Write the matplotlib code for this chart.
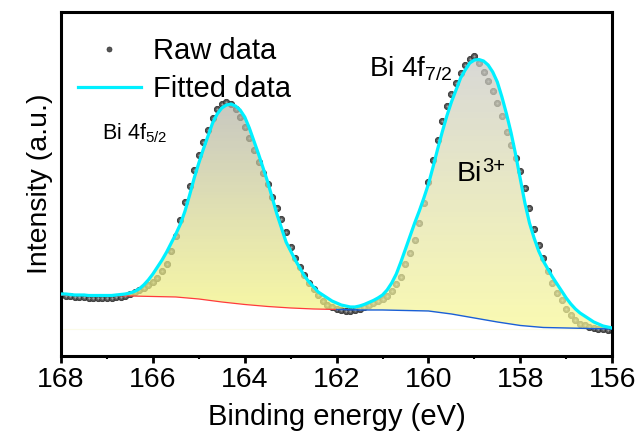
#XPS Bi 4f spectrum - raw data, fitted envelope and baseline
import numpy as np
import matplotlib
matplotlib.use('Agg')
import matplotlib.pyplot as plt
from matplotlib.patches import Polygon
from matplotlib.lines import Line2D
from matplotlib.ticker import MultipleLocator

plt.rcParams['font.family'] = ['Liberation Sans', 'DejaVu Sans']
plt.rcParams['mathtext.default'] = 'regular'

#Binding energy grid of the measurement (eV), 0.1 eV step from 168 down to 156
energy = np.round(np.linspace(168, 156, 121), 1)

#Raw data intensity (a.u.)
raw_data = [61, 60, 60, 59, 59, 58.5, 58, 58, 58, 58,
            58, 58, 58.5, 59, 60, 62, 64, 66, 68, 70.5,
            74, 78, 84.5, 91.5, 105, 120, 136, 154, 170, 186,
            201, 214, 226, 238, 247, 252, 254, 252, 247, 239,
            229, 218, 206, 194, 183, 172, 159, 148, 137, 124,
            109, 98, 89, 81, 73, 67, 61, 55, 51, 48.5,
            47, 46, 45, 45, 45.5, 46.5, 48.5, 51, 53, 54.5,
            56.5, 60, 65, 72, 79, 92, 103, 116, 133, 153,
            174, 196, 216, 235, 250, 262, 273, 283, 291, 297,
            300, 293, 284, 275, 265, 253, 240, 224, 211, 198,
            185, 168, 148, 127, 111, 98, 85, 73, 63, 56,
            47, 41, 36, 32, 30.5, 29, 28, 27, 26.5, 26,
            26]

#Fitted envelope (a.u.)
fitted_data = [62, 62, 61.5, 61, 61, 61, 60.5, 60.5, 60.5, 60.5,
               60.5, 60.5, 61, 61.5, 62, 63, 64.5, 67, 71, 76,
               82, 89, 96, 104, 113, 122, 132, 145, 161, 178,
               193, 207, 220, 233, 242, 248, 251, 252, 250, 246,
               239, 228, 215, 202, 188, 174, 158, 142, 128, 114,
               105, 96, 88, 80, 74, 69, 64, 61, 58, 55,
               53, 51, 50, 49, 49, 50, 51.5, 53.5, 55.5, 58,
               61, 66, 73, 82, 94, 107, 120, 133, 145, 158,
               172, 189, 207, 224, 240, 254, 266, 278, 286, 293,
               296, 296.5, 295, 291, 284, 274, 259, 242, 223, 201,
               177, 153, 133, 118, 105, 95, 87, 79, 72, 65,
               58, 52, 47, 43, 40, 37, 34, 32, 30, 29,
               28]

#Baseline (a.u.), 0.5 eV step
base_energy = np.round(np.linspace(168, 156, 25), 1)
baseline = [61, 61, 60.5, 60, 59.5, 59, 57, 54, 51.5, 49.5,
            48, 47, 46.5, 46, 46, 45.5, 45, 42, 38, 34,
            30.5, 28.5, 28, 27.5, 27]

#Label texts
legend_labels = ['Raw data', 'Fitted data']
peak_labels = ['Bi 4f$_{5/2}$', 'Bi 4f$_{7/2}$', 'Bi']
charge_label = '3+'

raw_data = np.array(raw_data)
fitted_data = np.array(fitted_data)
baseline = np.array(baseline)


#Fills the area between fitted curve and baseline with a vertical colour gradient
def gradient_fill(ax, x, y, xb, yb, top_color, bottom_color, alpha):
    verts = list(zip(x, y)) + list(zip(xb[::-1], yb[::-1]))
    poly = Polygon(verts, closed=True, facecolor='none', edgecolor='none')
    ax.add_patch(poly)
    t = np.linspace(0, 1, 256)[:, None]
    top = np.array(matplotlib.colors.to_rgb(top_color))
    bottom = np.array(matplotlib.colors.to_rgb(bottom_color))
    img = np.zeros((256, 1, 4))
    img[:, :, :3] = bottom + (top - bottom) * t[:, :, None]
    img[:, :, 3] = alpha
    im = ax.imshow(img, extent=[x.max(), x.min(), yb.min(), y.max()],
                   origin='lower', aspect='auto', zorder=2, interpolation='bilinear')
    im.set_clip_path(poly)


fig = plt.figure(figsize=(6.39, 4.37), dpi=100)
ax = fig.add_axes([0.0955, 0.1854, 0.8625, 0.7871])

#Raw data dots (drawn under the fill so the covered ones look faded)
ax.plot(energy, raw_data, 'o', ms=4.5, mfc='#555555', mec='#333333', mew=0.6, zorder=1)
ax.plot(energy, raw_data, 'o', ms=1.6, mfc='#a0a0a0', mec='none', zorder=1)

#Gradient fills, one per peak
left = energy >= 161.7
right = energy <= 161.7
bleft = base_energy >= 162.0
bright = base_energy <= 161.5
gradient_fill(ax, energy[left], fitted_data[left], base_energy[bleft], baseline[bleft],
              '#b3b3a9', '#f4f482', 0.72)
gradient_fill(ax, energy[right], fitted_data[right], base_energy[bright], baseline[bright],
              '#cacac6', '#f8f894', 0.72)

#Baselines
ax.plot(base_energy[bleft], baseline[bleft], color='#ff3b3b', lw=0.9, zorder=3)
ax.plot(base_energy[base_energy <= 162.0], baseline[base_energy <= 162.0],
        color='#1a5fd6', lw=1.0, zorder=3)
ax.axhline(27, color='#fbfbe8', lw=0.8, zorder=0)

#Fitted envelope
ax.plot(energy, fitted_data, color='#00f0ff', lw=2.3, zorder=4)

#Peak labels
ax.text(167.1, 217, peak_labels[0], fontsize=15.5, ha='left', va='baseline')
ax.text(161.29, 279.3, peak_labels[1], fontsize=20, ha='left', va='baseline')
ax.text(159.38, 175, peak_labels[2], fontsize=20.5, ha='left', va='baseline')
ax.annotate(charge_label, xy=(159.38, 175), xytext=(18.5, 6.7), textcoords='offset points',
            fontsize=14.5, ha='left', va='baseline')

#Legend
handles = [Line2D([], [], ls='none', marker='o', ms=3.6, mfc='#555555', mec='#333333', mew=0.5),
           Line2D([], [], color='#00f0ff', lw=2.3)]
ax.legend(handles, legend_labels, loc='upper left', bbox_to_anchor=(0.030, 0.927),
          frameon=False, fontsize=21, handlelength=2.16, handletextpad=0.41,
          labelspacing=0.34, borderpad=0, borderaxespad=0)

#Axes
ax.set_xlim(168, 156)
ax.set_ylim(0, 344)
ax.xaxis.set_major_locator(MultipleLocator(2))
ax.xaxis.set_minor_locator(MultipleLocator(1))
ax.tick_params(axis='x', which='major', direction='out', length=5, width=2, labelsize=20.5, pad=3)
ax.tick_params(axis='x', which='minor', direction='out', length=2.5, width=1.5)
ax.set_yticks([])
for s in ax.spines.values():
    s.set_linewidth(2.2)
ax.set_xlabel('Binding energy (eV)', fontsize=21, labelpad=7)
ax.set_ylabel('Intensity (a.u.)', fontsize=20.5, labelpad=6)

fig.savefig('out.png', dpi=100)
